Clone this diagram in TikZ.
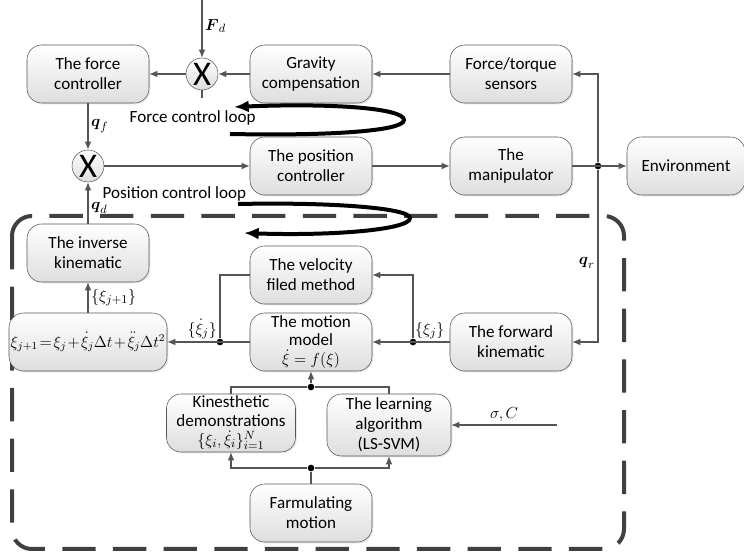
\documentclass[tikz,border=0pt]{standalone}
\usepackage{amsmath}
\usepackage{fontspec}
\setmainfont{Carlito}
\usetikzlibrary{arrows.meta,shadows}
\definecolor{linegray}{RGB}{85,85,85}
\definecolor{boxgray}{RGB}{222,222,222}

\begin{document}
\begin{tikzpicture}[x=0.75pt, y=-0.75pt, node distance=150pt]
    \tikzstyle{block} = [rectangle, rounded corners=11pt, minimum width=91.5pt, minimum height=43.5pt, align=center, inner sep=1pt, draw=linegray, top color=white, bottom color=boxgray, drop shadow={opacity=0.2, shadow xshift=1pt, shadow yshift=-1pt}, font=\fontsize{12.8}{15}\selectfont]
    \tikzstyle{mixer} = [circle, minimum size=24pt, inner sep=0pt, draw=linegray, top color=white, bottom color=boxgray, font=\fontsize{26}{26}\selectfont]
    \tikzstyle{arr} = [draw=linegray, line width=0.8pt, -{Latex[length=6pt,width=5pt]}]
    \tikzstyle{wire} = [draw=linegray, line width=0.8pt]
    \tikzstyle{loopline} = [line width=3pt, -{Latex[length=11pt,width=9pt]}]
    \tikzstyle{dot} = [circle, fill=black, inner sep=0pt, minimum size=5pt]
    \tikzstyle{lbl} = [font=\fontsize{12.5}{14}\selectfont, inner sep=2pt]

    \useasboundingbox (0,0) rectangle (744,552);

    % Demonstration part
    \draw [draw=black!75, line width=3pt, dash pattern=on 25pt off 13pt, rounded corners=15pt] (12,216) rectangle (624,549);

    % Control loops
    \node [block] (force) at (88,74) {The force\\controller};
    \node [mixer] (xf) at (202,74) {X};
    \node [block, right of=force, xshift=17.25pt] (gravity) {Gravity\\compensation};
    \node [block, right of=gravity] (sensors) {Force/torque\\sensors};
    \node [mixer] (xp) at (88,166) {X};
    \node [block, below of=gravity, yshift=81pt] (posctrl) {The position\\controller};
    \node [block, right of=posctrl] (manip) {The\\manipulator};
    \node [block, right of=manip, xshift=-18.75pt, minimum width=88.5pt] (env) {Environment};
    \node [dot] (jr) at (598,166) {};
    \coordinate (fd) at (202,0);
    \coordinate (xfstub) at (202,98);

    % Motion generation
    \node [block] (invkin) at (88,253) {The inverse\\kinematic};
    \node [block, below of=posctrl, yshift=68.25pt] (velocity) {The velocity\\filed method};
    \node [block, below of=velocity, yshift=99.75pt, font=\fontsize{12.8}{14}\selectfont] (motion) {The motion\\model\\$\dot{\xi}=f(\xi)$};
    \node [block, left of=motion, xshift=-17.25pt, minimum width=118.5pt, font=\fontsize{11.5}{14}\selectfont] (update) {$\thickmuskip=2mu\medmuskip=1.5mu \xi_{j+1}=\xi_j+\dot{\xi}_j\Delta t+\ddot{\xi}_j\Delta t^2$};
    \node [block, right of=motion] (forward) {The forward\\kinematic};
    \node [block, minimum width=96.75pt, font=\fontsize{12.8}{14}\selectfont] (demo) at (231,423) {Kinesthetic\\demonstrations\\$\{\xi_i,\dot{\xi}_i\}_{i=1}^N$};
    \node [block, minimum width=93pt, minimum height=46.5pt] (learn) at (389,425) {The learning\\algorithm\\(LS-SVM)};
    \node [block, below of=motion, yshift=21.75pt] (farm) {Farmulating\\motion};
    \node [dot] (dl) at (220,342) {};
    \node [dot] (dr) at (413,342) {};
    \node [dot] (dtop) at (311,387) {};
    \node [dot] (dbot) at (311,468) {};
    \coordinate (sig) at (557,425);

    % Arrows
    \draw [arr] (fd) -- node[lbl, right, pos=0.45] {$\boldsymbol{F}_d$} (xf);
    \draw [wire] (xf) -- (xfstub);
    \draw [arr] (sensors) -- (gravity);
    \draw [arr] (gravity) -- (xf);
    \draw [arr] (xf) -- (force);
    \draw [arr] (force) -- node[lbl, right] {$\boldsymbol{q}_f$} (xp);
    \draw [arr] (xp) -- (posctrl);
    \draw [arr] (posctrl) -- (manip);
    \draw [arr] (manip) -- (env);
    \draw [arr] (jr) |- (sensors);
    \draw [arr] (jr) |- node[lbl, left, pos=0.27] {$\boldsymbol{q}_r$} (forward);
    \draw [arr] (invkin) -- node[lbl, right, pos=0.38] {$\boldsymbol{q}_d$} (xp);
    \draw [arr] (update) -- node[lbl, right] {$\{\xi_{j+1}\}$} (invkin);
    \draw [arr] (motion) -- node[lbl, above left, pos=0.36] {$\{\dot{\xi}_j\}$} (update);
    \draw [wire] (dl) |- (velocity);
    \draw [arr] (forward) -- node[lbl, above right, pos=0.47, xshift=-1pt] {$\{\xi_j\}$} (motion);
    \draw [arr] (dr) |- (velocity);
    \draw [wire] (demo.north) |- (dtop);
    \draw [wire] (learn.north) |- (dtop);
    \draw [arr] (dtop) -- (motion);
    \draw [wire] (farm) -- (dbot);
    \draw [arr] (dbot) -| (demo.south);
    \draw [arr] (dbot) -| (learn.south);
    \draw [arr] (sig) -- node[lbl, above] {$\sigma,C$} (learn);

    % Loop marks
    \draw [loopline] (230,134) .. controls (330,136) and (404,131) .. (404,120) .. controls (404,108) and (330,103) .. (234,107);
    \draw [loopline] (238,204) .. controls (330,202) and (410,208) .. (410,218) .. controls (410,230) and (330,236) .. (244,233);
    \node [anchor=west, font=\fontsize{12.8}{15}\selectfont] (forcelbl) at (125,118) {Force control loop};
    \node [anchor=west, font=\fontsize{12.8}{15}\selectfont] (poslbl) at (98,194) {Position control loop};
\end{tikzpicture}
\end{document}
